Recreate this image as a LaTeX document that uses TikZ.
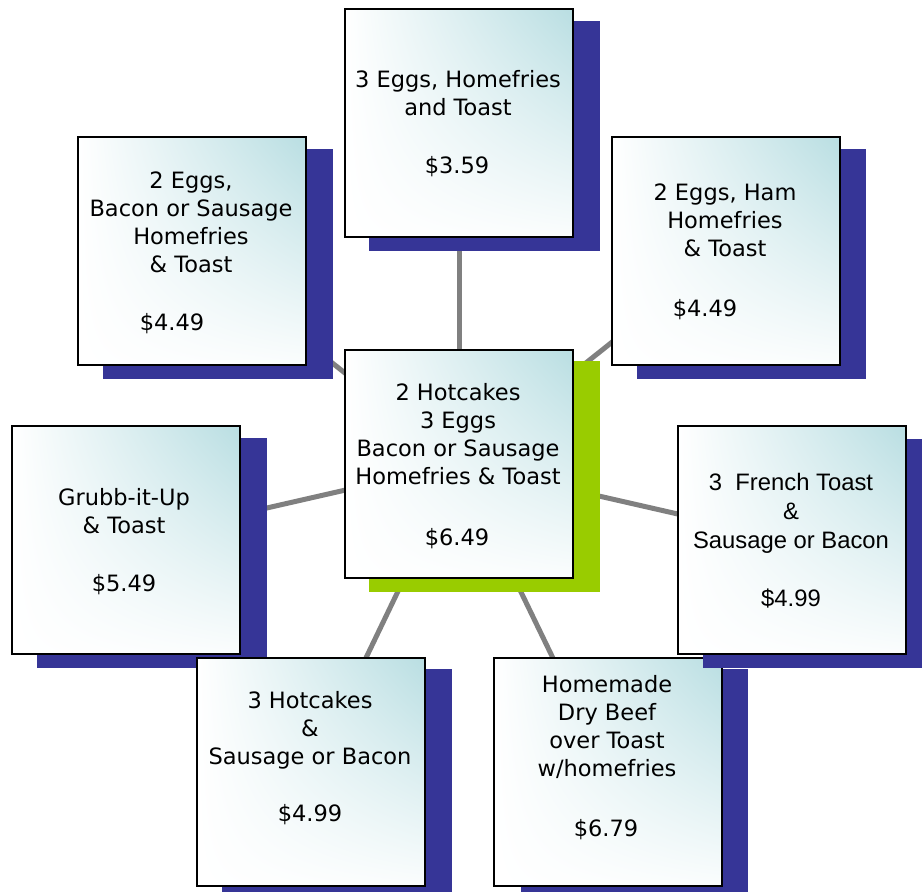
\documentclass[tikz,border=0pt]{standalone}
\usepackage{fontspec}
\setmainfont{DejaVu Sans}
\newfontfamily\arialfont{Liberation Sans}
\usetikzlibrary{backgrounds,shadings}
\definecolor{shblue}{HTML}{363597}
\definecolor{shgreen}{HTML}{99CC00}
\definecolor{tealc}{HTML}{B9DEE2}
\definecolor{linkgray}{HTML}{808080}
\tikzset{
  menubox/.style={draw=black, line width=2.2pt, minimum width=228pt, minimum height=228pt,
    inner sep=0pt, anchor=north west, upper left=white, upper right=tealc,
    lower left=white, lower right=tealc!6},
  shadowbox/.style={fill=#1, draw=none},
  menutext/.style={align=center, inner sep=0pt, font=\fontsize{22.5}{28}\selectfont},
  arialtext/.style={align=center, inner sep=0pt, font=\arialfont\fontsize{23.8}{29}\selectfont},
  link/.style={draw=linkgray, line width=5pt},
}
\newcommand{\mline}[1]{\strut #1}
\begin{document}
\begin{tikzpicture}[x=1pt,y=-1pt]
\useasboundingbox (0,0) rectangle (922,892);
% top
\fill[shadowbox=shblue] (369,21) rectangle (600,251);
\node[menubox] (top) at (344,8) {};
\node[menutext] (toptxt) at (458,95.4) {\mline{3 Eggs, Homefries}\\\mline{and Toast}};
\node[menutext] (topprice) at (457,167.4) {\mline{\$3.59}};
% top left
\fill[shadowbox=shblue] (103,149) rectangle (333,379);
\node[menubox] (tl) at (77,136) {};
\node[menutext] (tltxt) at (191,224.4) {\mline{2 Eggs,}\\\mline{Bacon or Sausage}\\\mline{Homefries}\\\mline{\& Toast}};
\node[menutext] (tlprice) at (172,324.4) {\mline{\$4.49}};
% top right
\fill[shadowbox=shblue] (637,149) rectangle (866,379);
\node[menubox] (tr) at (611,136) {};
\node[menutext] (trtxt) at (725,223) {\mline{2 Eggs, Ham}\\\mline{Homefries}\\\mline{\& Toast}};
\node[menutext] (trprice) at (705,310.4) {\mline{\$4.49}};
% center
\fill[shadowbox=shgreen] (369,361) rectangle (600,592);
\node[menubox] (cb) at (344,349) {};
\node[menutext] (cbtxt) at (458,437) {\mline{2 Hotcakes}\\\mline{3 Eggs}\\\mline{Bacon or Sausage}\\\mline{Homefries \& Toast}};
\node[menutext] (cbprice) at (457,539.4) {\mline{\$6.49}};
% left
\fill[shadowbox=shblue] (37,438) rectangle (267,668);
\node[menubox] (lf) at (11,425) {};
\node[menutext] (lftxt) at (124,513.4) {\mline{Grubb-it-Up}\\\mline{\& Toast}};
\node[menutext] (lfprice) at (124,585.4) {\mline{\$5.49}};
% bottom left
\fill[shadowbox=shblue] (222,669) rectangle (452,892);
\node[menubox] (bl) at (196,657) {};
\node[menutext] (bltxt) at (310,731) {\mline{3 Hotcakes}\\\mline{\&}\\\mline{Sausage or Bacon}};
\node[menutext] (blprice) at (310,815.4) {\mline{\$4.99}};
% bottom right
\fill[shadowbox=shblue] (521,669) rectangle (748,892);
\node[menubox] (br) at (493,657) {};
\node[menutext] (brtxt) at (607,729) {\mline{Homemade}\\\mline{Dry Beef}\\\mline{over Toast}\\\mline{w/homefries}};
\node[menutext] (brprice) at (606,830.4) {\mline{\$6.79}};
% right
\fill[shadowbox=shblue] (703,439) rectangle (933,668);
\node[menubox] (rt) at (677,425) {};
\node[arialtext] (rttxt) at (791,513.7) {\mline{3\ \ French Toast}\\\mline{\&}\\\mline{Sausage or Bacon}};
\node[arialtext] (rtprice) at (791,600.7) {\mline{\$4.99}};
% connectors
\begin{pgfonlayer}{background}
\draw[link] (cb.center) -- (top.center);
\draw[link] (cb.center) -- (tl.center);
\draw[link] (cb.center) -- (tr.center);
\draw[link] (cb.center) -- (lf.center);
\draw[link] (cb.center) -- (rt.center);
\draw[link] (cb.center) -- (bl.center);
\draw[link] (cb.center) -- (br.center);
\end{pgfonlayer}
\end{tikzpicture}
\end{document}
